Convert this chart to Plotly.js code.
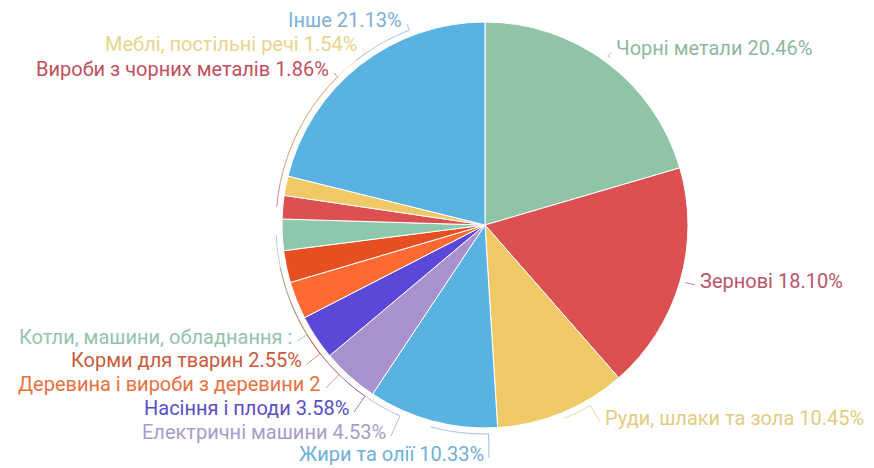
<!DOCTYPE html>
<html>
<head>
<meta charset="utf-8">
<script src="https://cdn.plot.ly/plotly-3.0.1.min.js"></script>
<style>html,body{margin:0;padding:0;background:#fff;}#chart{width:874px;height:468px;}</style>
</head>
<body>
<div id="chart"></div>
<script>
// ---- data ----
const categories = ["Чорні метали", "Зернові", "Руди, шлаки та зола", "Жири та олії",
  "Електричні машини", "Насіння і плоди", "Деревина і вироби з деревини",
  "Корми для тварин", "Котли, машини, обладнання", "Вироби з чорних металів",
  "Меблі, постільні речі", "Інше"];
const values = [20.46, 18.10, 10.45, 10.33, 4.53, 3.58, 2.98, 2.55, 2.49, 1.86, 1.54, 21.13];
// label texts as they appear (two are cut off in the original)
const labelTexts = ["Чорні метали 20.46%", "Зернові 18.10%", "Руди, шлаки та зола 10.45%",
  "Жири та олії 10.33%", "Електричні машини 4.53%", "Насіння і плоди 3.58%",
  "Деревина і вироби з деревини 2", "Корми для тварин 2.55%", "Котли, машини, обладнання :",
  "Вироби з чорних металів 1.86%", "Меблі, постільні речі 1.54%", "Інше 21.13%"];

// ---- styles / layout ----
const sliceColors = ["#8fc4a6", "#dd5052", "#efc965", "#5ab2e3", "#a891cc", "#5b48d9",
  "#fd6b33", "#e54f22", "#8dc8ac", "#dd5052", "#efc965", "#5ab2e3"];
const textColors = ["#8db8a0", "#b9566a", "#e3cc82", "#6fb0d8", "#a99bc9", "#5a4ec6",
  "#e8723f", "#c95a3b", "#95c2ad", "#bf4f5d", "#e9d48c", "#7eb0d6"];
// label placement in pixels: [anchor side, x edge, y centre]
const labelPlace = [["left", 614, 48], ["left", 698, 281], ["left", 603, 418],
  ["right", 486, 454], ["right", 388, 432], ["right", 351, 408], ["right", 323, 384],
  ["right", 304, 360], ["right", 294, 337], ["right", 331, 69], ["right", 359, 44],
  ["right", 404, 20]];

const W = 874, H = 468;
const CX = 485, CY = 225, R = 203;
const px = x => x / W, py = y => 1 - y / H;

const total = values.reduce((a, b) => a + b, 0);
let cum = 0;
const shapes = [], annotations = [];
values.forEach((v, i) => {
  const mid = (cum + v / 2) / total * 2 * Math.PI; // clockwise from top
  cum += v;
  const [side, lx, ly] = labelPlace[i];
  const ax = side === "left" ? lx - 3 : lx + 3;
  const ayp = ly + 4;
  let phi = Math.atan2(ax - CX, -(ayp - CY));
  if (phi < 0) phi += 2 * Math.PI;
  let d = phi - mid;
  if (d > Math.PI) d -= 2 * Math.PI;
  if (d < -Math.PI) d += 2 * Math.PI;
  const RR = R + 6;
  const n = Math.max(2, Math.ceil(Math.abs(d) / 0.03));
  let path = "";
  for (let k = 0; k <= n; k++) {
    const t = mid + d * k / n;
    const x = CX + RR * Math.sin(t), y = CY - RR * Math.cos(t);
    path += (k === 0 ? "M" : "L") + px(x).toFixed(5) + "," + py(y).toFixed(5) + " ";
  }
  path += "L" + px(ax).toFixed(5) + "," + py(ayp).toFixed(5);
  shapes.push({type: "path", xref: "paper", yref: "paper", path: path,
    line: {color: textColors[i], width: 1}, opacity: 0.7});
  annotations.push({xref: "paper", yref: "paper", x: px(lx), y: py(ly),
    xanchor: side, yanchor: "middle", showarrow: false, text: labelTexts[i],
    font: {family: "Roboto, sans-serif", size: 20, color: textColors[i]}});
});

const trace = {
  type: "pie", labels: categories, values: values, sort: false,
  direction: "clockwise", rotation: 0, textinfo: "none", hoverinfo: "label+percent",
  marker: {colors: sliceColors, line: {color: "#ffffff", width: 1}},
  domain: {x: [px(CX - R), px(CX + R)], y: [py(CY + R), py(CY - R)]},
  automargin: false, showlegend: false
};

Plotly.newPlot("chart", [trace], {
  width: W, height: H, margin: {l: 0, r: 0, t: 0, b: 0},
  paper_bgcolor: "#fff", plot_bgcolor: "#fff", showlegend: false,
  shapes: shapes, annotations: annotations
}, {displayModeBar: false, staticPlot: true});
</script>
</body>
</html>
